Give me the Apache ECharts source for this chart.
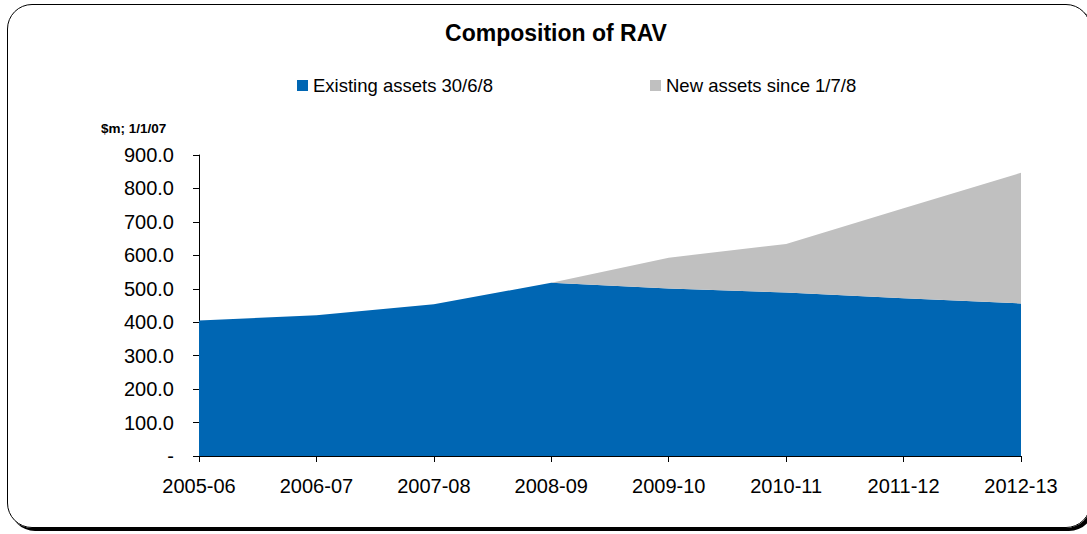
<!DOCTYPE html>
<html>
<head>
<meta charset="utf-8">
<script src="https://cdn.jsdelivr.net/npm/echarts@6/dist/echarts.min.js"></script>
<style>
  html, body { margin: 0; padding: 0; background: #fff; }
  #frame {
    position: absolute; left: 7px; top: 4px; width: 1084px; height: 524px;
    border: 1px solid #000; border-radius: 25px; box-shadow: 3px 3px 0 #000;
    box-sizing: border-box;
  }
  #chart { position: absolute; left: 0; top: 0; width: 1087px; height: 534px; }
</style>
</head>
<body>
<div id="frame"></div>
<div id="chart"></div>
<script>
// 数据
var years = ['2005-06', '2006-07', '2007-08', '2008-09', '2009-10', '2010-11', '2011-12', '2012-13']
var existingAssets = [405, 421, 454, 518, 501, 489, 472, 456]
var newAssets = [0, 0, 0, 0, 92, 145, 269, 391]
var yTicks = [0, 100, 200, 300, 400, 500, 600, 700, 800, 900]

var font = 'Liberation Sans, Arial, sans-serif'
var chart = echarts.init(document.getElementById('chart'), null, { renderer: 'svg' })

chart.setOption({
  animation: false,
  title: {
    text: 'Composition of RAV',
    left: 551, top: 16, textAlign: 'center',
    textStyle: { fontFamily: font, fontSize: 23, fontWeight: 'bold', color: '#000' }
  },
  legend: [
    {
      data: ['Existing assets 30/6/8'],
      left: 292, top: 71, itemWidth: 11, itemHeight: 11,
      icon: 'rect',
      textStyle: { fontFamily: font, fontSize: 18.5, color: '#000' }
    },
    {
      data: ['New assets since 1/7/8'],
      left: 645, top: 71, itemWidth: 11, itemHeight: 11,
      icon: 'rect',
      textStyle: { fontFamily: font, fontSize: 18.5, color: '#000' }
    }
  ],
  graphic: [{
    type: 'text', left: 101, top: 121,
    style: { text: '$m; 1/1/07', font: 'bold 13.5px ' + font, fill: '#000' }
  }],
  grid: { left: 199, right: 66, top: 155, bottom: 78 },
  xAxis: {
    type: 'category',
    data: years,
    boundaryGap: false,
    axisLine: { lineStyle: { color: '#000', width: 1 } },
    axisTick: { show: true, length: 6, lineStyle: { color: '#000' } },
    axisLabel: { fontFamily: font, fontSize: 20, color: '#000', margin: 20 }
  },
  yAxis: {
    type: 'value',
    min: 0, max: 900, interval: 100,
    axisLine: { show: true, lineStyle: { color: '#000', width: 1 } },
    axisTick: { show: true, length: 6, lineStyle: { color: '#000' } },
    splitLine: { show: false },
    axisLabel: {
      fontFamily: font, fontSize: 20, color: '#000', margin: 25,
      formatter: function (v) { return yTicks.indexOf(v) === 0 ? '-' : v.toFixed(1) }
    }
  },
  series: [
    {
      name: 'Existing assets 30/6/8',
      type: 'line', stack: 'rav', data: existingAssets,
      symbol: 'none', lineStyle: { width: 0 },
      itemStyle: { color: '#0066B3' },
      areaStyle: { color: '#0066B3', opacity: 1 }
    },
    {
      name: 'New assets since 1/7/8',
      type: 'line', stack: 'rav', data: newAssets,
      symbol: 'none', lineStyle: { width: 0 },
      itemStyle: { color: '#C0C0C0' },
      areaStyle: { color: '#C0C0C0', opacity: 1 }
    }
  ]
})
</script>
</body>
</html>
